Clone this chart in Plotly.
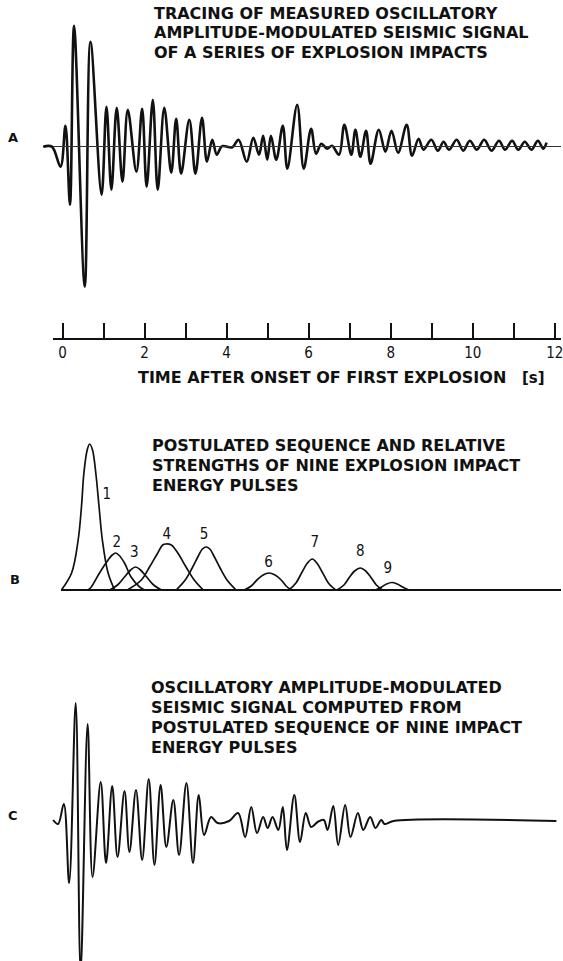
import plotly.graph_objects as go

# ---------------- DATA ----------------
# Panel A: measured seismic trace, extrema (time s, relative amplitude)
a_time = [-0.47, -0.26, -0.05, 0.07, 0.18, 0.28, 0.54, 0.68, 0.95, 1.07, 1.19, 1.32, 1.46, 1.59,
          1.80, 1.94, 2.05, 2.20, 2.32, 2.48, 2.65, 2.77, 2.89, 3.09, 3.24, 3.40, 3.52, 3.65,
          3.76, 3.89, 4.14, 4.29, 4.49, 4.65, 4.79, 4.89, 4.99, 5.08, 5.21, 5.37, 5.48, 5.72,
          5.88, 6.06, 6.18, 6.31, 6.45, 6.57, 6.74, 6.87, 7.04, 7.14, 7.26, 7.40, 7.51, 7.71,
          7.87, 8.02, 8.18, 8.39, 8.52, 8.68, 8.80, 8.99, 9.15, 9.29, 9.42, 9.61, 9.77, 9.93,
          10.10, 10.28, 10.46, 10.64, 10.79, 10.96, 11.11, 11.27, 11.43, 11.59, 11.72, 11.80]
a_amp = [0.0, 0.0, -2.0, 2.1, -5.8, 12.1, -14.0, 10.5, -4.8, 4.0, -4.3, 3.9, -3.5, 3.7,
         -2.5, 3.8, -4.0, 4.7, -4.3, 3.9, -2.6, 2.8, -2.7, 2.7, -2.7, 2.9, -1.5, 0.7,
         -0.8, 0.05, -0.05, 0.7, -1.5, 0.9, -0.8, 1.1, -1.3, 1.1, -1.3, 2.1, -2.2, 4.2,
         -2.2, 1.8, -0.7, 0.3, -0.2, 0.1, -0.8, 2.2, -0.8, 1.7, -1.0, 1.6, -1.7, 1.7,
         -0.5, 1.6, -0.6, 2.2, -0.9, 0.8, -0.3, 0.7, -0.4, 0.5, -0.3, 0.7, -0.4, 0.6,
         -0.3, 0.7, -0.4, 0.6, -0.3, 0.6, -0.3, 0.5, -0.3, 0.6, -0.2, 0.4]

# Panel B: nine postulated energy pulses
pulse_times = [
    [-0.03, 0.22, 0.38, 0.46, 0.52, 0.60, 0.66, 0.73, 0.81, 0.89, 0.97, 1.11, 1.27],
    [0.62, 0.70, 0.90, 1.11, 1.21, 1.29, 1.37, 1.51, 1.67, 1.88, 2.00],
    [1.15, 1.34, 1.51, 1.66, 1.78, 1.90, 2.05, 2.22, 2.41],
    [1.58, 1.92, 2.12, 2.32, 2.44, 2.52, 2.65, 2.81, 3.01, 3.21, 3.43],
    [2.77, 2.99, 3.16, 3.31, 3.41, 3.50, 3.59, 3.69, 3.84, 4.01, 4.23],
    [4.43, 4.60, 4.74, 4.89, 5.03, 5.18, 5.33, 5.45, 5.57],
    [5.52, 5.69, 5.84, 5.97, 6.09, 6.20, 6.33, 6.48, 6.66],
    [6.69, 6.86, 6.99, 7.12, 7.26, 7.39, 7.52, 7.65, 7.80],
    [7.63, 7.78, 7.90, 8.03, 8.16, 8.29, 8.44],
]
pulse_amps = [
    [0.0, 1.7, 5.0, 8.3, 11.7, 14.0, 14.6, 14.0, 11.7, 8.3, 5.0, 1.7, 0.0],
    [0.0, 0.3, 1.7, 3.0, 3.5, 3.7, 3.5, 2.7, 1.3, 0.3, 0.0],
    [0.0, 0.5, 1.3, 2.0, 2.3, 2.0, 1.3, 0.5, 0.0],
    [0.0, 1.0, 2.3, 3.7, 4.5, 4.6, 4.5, 3.7, 2.3, 1.0, 0.0],
    [0.0, 1.0, 2.2, 3.4, 4.1, 4.3, 4.1, 3.4, 2.2, 1.0, 0.0],
    [0.0, 0.4, 1.0, 1.5, 1.7, 1.5, 1.0, 0.4, 0.0],
    [0.0, 0.7, 1.8, 2.7, 3.1, 2.7, 1.8, 0.7, 0.0],
    [0.0, 0.5, 1.25, 1.9, 2.2, 1.9, 1.25, 0.5, 0.0],
    [0.0, 0.3, 0.6, 0.75, 0.6, 0.3, 0.0],
]
pulse_labels = ["1", "2", "3", "4", "5", "6", "7", "8", "9"]
pulse_label_time = [1.08, 1.32, 1.75, 2.54, 3.45, 5.02, 6.15, 7.26, 7.93]
pulse_label_amp = [9.5, 4.7, 3.7, 5.5, 5.5, 2.7, 4.7, 3.8, 2.1]

# Panel C: computed seismic signal, extrema (time s, relative amplitude)
c_time = [-0.23, -0.11, 0.03, 0.16, 0.32, 0.44, 0.61, 0.73, 0.93, 1.06, 1.21, 1.34, 1.51, 1.63,
          1.79, 1.94, 2.10, 2.24, 2.39, 2.53, 2.70, 2.84, 3.02, 3.18, 3.32, 3.45, 3.62, 3.78,
          4.06, 4.28, 4.45, 4.60, 4.74, 4.89, 5.00, 5.12, 5.26, 5.37, 5.47, 5.65, 5.79, 5.93,
          6.06, 6.22, 6.37, 6.46, 6.60, 6.72, 6.89, 7.02, 7.20, 7.33, 7.50, 7.63, 7.77, 7.85,
          8.07, 12.04]
c_amp = [0.1, -0.3, 1.7, -6.2, 11.8, -15.0, 9.7, -5.6, 3.9, -4.2, 3.5, -3.6, 3.0, -3.1,
         3.1, -3.9, 4.2, -4.4, 3.6, -2.6, 2.1, -3.4, 3.8, -4.2, 2.6, -1.4, 0.4, -0.2,
         0.0, 0.8, -1.6, 1.4, -1.2, 0.4, -0.7, 0.4, -0.9, 1.4, -2.9, 2.6, -2.1, 0.8,
         -0.6, -0.1, 0.1, -0.9, 1.5, -2.4, 1.6, -1.6, 0.8, -0.9, 0.4, -0.7, 0.1, -0.3,
         0.0, 0.0]

tick_vals = list(range(13))
tick_text = ["0", "", "2", "", "4", "", "6", "", "8", "", "10", "", "12"]

title_a = ["TRACING OF MEASURED OSCILLATORY",
           "AMPLITUDE-MODULATED SEISMIC SIGNAL",
           "OF A SERIES OF EXPLOSION IMPACTS"]
title_b = ["POSTULATED SEQUENCE AND RELATIVE",
           "STRENGTHS OF NINE EXPLOSION IMPACT",
           "ENERGY PULSES"]
title_c = ["OSCILLATORY AMPLITUDE-MODULATED",
           "SEISMIC SIGNAL COMPUTED FROM",
           "POSTULATED SEQUENCE OF NINE IMPACT",
           "ENERGY PULSES"]
axis_title = "TIME AFTER ONSET OF FIRST EXPLOSION"
axis_unit = "[s]"

# ---------------- LAYOUT HELPERS ----------------
W, H = 563, 961
T0_PX = 62.8        # pixel column of t = 0
PX_PER_S = 41.16    # pixels per second
PX_PER_UNIT = 10.0  # pixels per amplitude unit


def t_at(px):
    return (px - T0_PX) / PX_PER_S


def py(px):
    return 1 - px / H


def yrange(base_px, top_px, bot_px):
    return [(base_px - bot_px) / PX_PER_UNIT, (base_px - top_px) / PX_PER_UNIT]


TITLE_FONT = dict(family="DejaVu Sans, Liberation Sans, Arial", size=16, color="#111", weight="bold")
NARROW = "Liberation Sans Narrow, DejaVu Sans Condensed, Liberation Sans, Arial"

fig = go.Figure()

fig.add_trace(go.Scatter(x=a_time, y=a_amp, mode="lines", xaxis="x", yaxis="y",
                         line=dict(color="#111", width=2.6, shape="spline", smoothing=1.0),
                         showlegend=False, hoverinfo="skip"))
fig.add_trace(go.Scatter(x=[], y=[], xaxis="x4", yaxis="y", showlegend=False))

for pt, pa in zip(pulse_times, pulse_amps):
    fig.add_trace(go.Scatter(x=pt, y=pa, mode="lines", xaxis="x2", yaxis="y2",
                             line=dict(color="#111", width=1.7, shape="spline", smoothing=1.0),
                             showlegend=False, hoverinfo="skip"))
fig.add_trace(go.Scatter(x=pulse_label_time, y=pulse_label_amp, mode="text", text=pulse_labels,
                         xaxis="x2", yaxis="y2", textfont=dict(family=NARROW, size=15, color="#111"),
                         showlegend=False, hoverinfo="skip"))

fig.add_trace(go.Scatter(x=c_time, y=c_amp, mode="lines", xaxis="x3", yaxis="y3",
                         line=dict(color="#111", width=2.0, shape="spline", smoothing=1.0),
                         showlegend=False, hoverinfo="skip"))

hidden_x = dict(showgrid=False, zeroline=False, showline=False, showticklabels=False, ticks="")
hidden_y = dict(showgrid=False, showline=False, showticklabels=False, ticks="")

annotations = []
def add_lines(lines, left_px, centers_px, font=TITLE_FONT):
    for txt, cy in zip(lines, centers_px):
        annotations.append(dict(text=txt, xref="paper", yref="paper", x=left_px / W, y=py(cy),
                                xanchor="left", yanchor="middle", showarrow=False, font=font))

add_lines(title_a, 152.5, [13.5, 33, 52.5])
add_lines(title_b, 151, [445.5, 465.5, 485.5])
add_lines(title_c, 150, [687.5, 707, 727, 747])
add_lines([axis_title], 136, [377.5])
add_lines([axis_unit], 522, [377.5],
          font=dict(family="DejaVu Sans, Liberation Sans", size=15, color="#111", weight="bold"))

for letter, cx, cy in [("A", 12.6, 137), ("B", 15, 579), ("C", 13.5, 815)]:
    annotations.append(dict(text=letter, xref="paper", yref="paper", x=cx / W, y=py(cy),
                            xanchor="center", yanchor="middle", showarrow=False,
                            font=dict(family="DejaVu Sans, Liberation Sans", size=13, color="#111",
                                      weight="bold")))

fig.update_layout(
    width=W, height=H, autosize=False,
    margin=dict(l=0, r=0, t=0, b=0),
    paper_bgcolor="white", plot_bgcolor="rgba(0,0,0,0)",
    showlegend=False,
    xaxis=dict(domain=[43 / W, 1], range=[t_at(43), t_at(W)], anchor="y", **hidden_x),
    yaxis=dict(domain=[py(338), 1], range=yrange(146.7, 0, 338), anchor="x",
               zeroline=True, zerolinecolor="#333", zerolinewidth=1, **hidden_y),
    xaxis2=dict(domain=[61 / W, 1], range=[t_at(61), t_at(W)], anchor="y2", **hidden_x),
    yaxis2=dict(domain=[py(620), py(400)], range=yrange(590, 400, 620), anchor="x2",
                zeroline=True, zerolinecolor="#111", zerolinewidth=2, **hidden_y),
    xaxis3=dict(domain=[0, 1], range=[t_at(0), t_at(W)], anchor="y3", **hidden_x),
    yaxis3=dict(domain=[0, py(650)], range=yrange(821, 650, 961), anchor="x3",
                zeroline=False, **hidden_y),
    xaxis4=dict(domain=[53 / W, 1], range=[t_at(53), t_at(W)], anchor="y",
                showgrid=False, zeroline=False, showline=True, linecolor="#111", linewidth=2,
                ticks="inside", ticklen=15, tickwidth=2, tickcolor="#111",
                tickmode="array", tickvals=tick_vals, ticktext=tick_text,
                ticklabeloverflow="allow",
                tickfont=dict(family=NARROW, size=15, color="#111")),
    annotations=annotations,
)

fig.write_html("out.html", config={"displayModeBar": False},
               post_script="document.body.style.margin='0px';")
